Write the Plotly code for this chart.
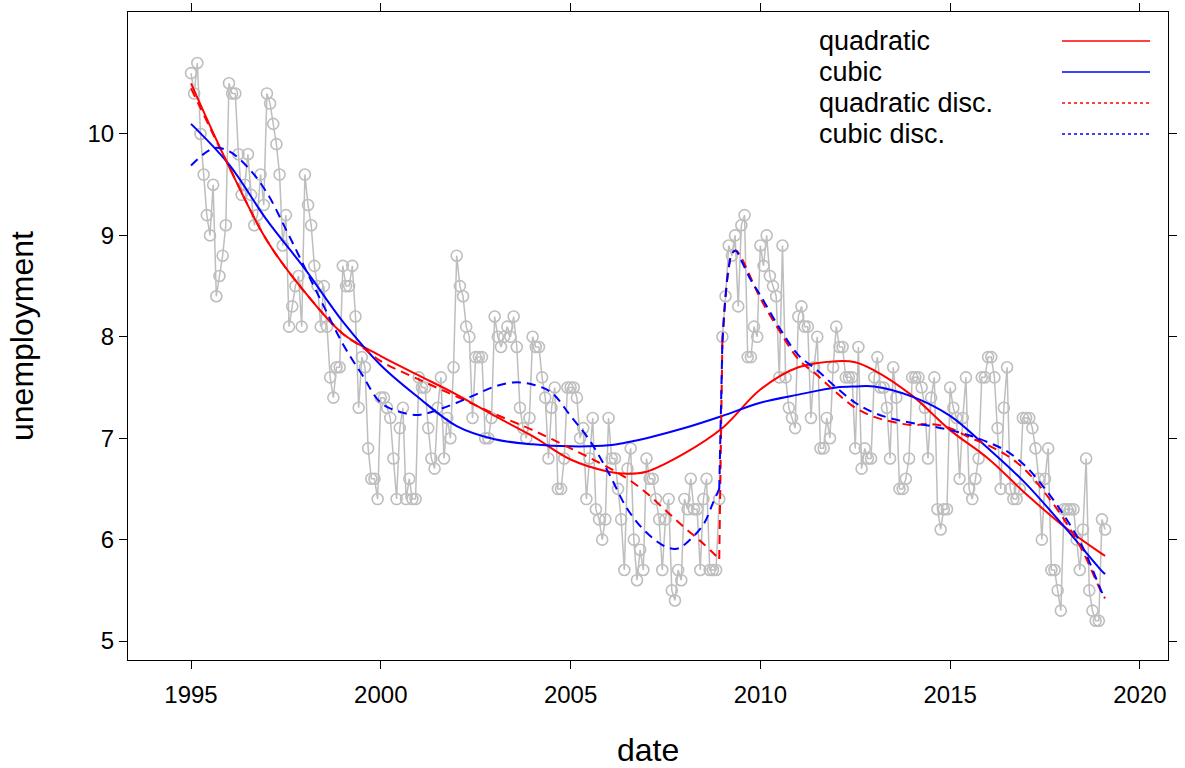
import plotly.graph_objects as go

# ---------------- data (monthly, Jan 1995 - Feb 2019) ----------------
start_year = 1995
unemployment = [
    10.6, 10.4, 10.7, 10.0, 9.6, 9.2, 9.0, 9.5, 8.4, 8.6, 8.8, 9.1,      # 1995
    10.5, 10.4, 10.4, 9.8, 9.4, 9.5, 9.8, 9.4, 9.1, 9.2, 9.6, 9.3,       # 1996
    10.4, 10.3, 10.1, 9.9, 9.6, 8.9, 9.2, 8.1, 8.3, 8.5, 8.6, 8.1,       # 1997
    9.6, 9.3, 9.1, 8.7, 8.5, 8.1, 8.5, 8.1, 7.6, 7.4, 7.7, 7.7,          # 1998
    8.7, 8.5, 8.5, 8.7, 8.2, 7.3, 7.8, 7.7, 6.9, 6.6, 6.6, 6.4,          # 1999
    7.4, 7.4, 7.3, 7.2, 6.8, 6.4, 7.1, 7.3, 6.4, 6.6, 6.4, 6.4,          # 2000
    7.6, 7.5, 7.5, 7.1, 6.8, 6.7, 7.3, 7.6, 6.8, 7.2, 7.0, 7.7,          # 2001
    8.8, 8.5, 8.4, 8.1, 8.0, 7.2, 7.8, 7.8, 7.8, 7.0, 7.0, 7.2,          # 2002
    8.2, 8.0, 7.9, 8.0, 8.1, 8.0, 8.2, 7.9, 7.3, 7.1, 7.0, 7.2,          # 2003
    8.0, 7.9, 7.9, 7.6, 7.4, 6.8, 7.3, 7.5, 6.5, 6.5, 6.8, 7.5,          # 2004
    7.5, 7.5, 7.4, 7.0, 7.1, 6.4, 6.8, 7.2, 6.3, 6.2, 6.0, 6.2,          # 2005
    7.2, 6.8, 6.8, 6.5, 6.2, 5.7, 6.7, 6.9, 6.0, 5.6, 5.9, 5.7,          # 2006
    6.8, 6.6, 6.6, 6.4, 6.2, 5.7, 6.2, 6.4, 5.5, 5.4, 5.7, 5.6,          # 2007
    6.4, 6.3, 6.6, 6.3, 6.3, 5.7, 6.4, 6.6, 5.7, 5.7, 5.7, 6.4,          # 2008
    8.0, 8.4, 8.9, 8.8, 9.0, 8.3, 9.1, 9.2, 7.8, 7.8, 8.1, 8.0,          # 2009
    8.9, 8.7, 9.0, 8.6, 8.5, 8.4, 7.6, 8.9, 7.6, 7.3, 7.2, 7.1,          # 2010
    8.2, 8.3, 8.1, 8.1, 7.2, 7.7, 8.0, 6.9, 6.9, 7.2, 7.0, 7.7,          # 2011
    8.1, 7.9, 7.9, 7.6, 7.6, 7.6, 6.9, 7.9, 6.7, 6.9, 6.8, 6.8,          # 2012
    7.6, 7.8, 7.5, 7.5, 7.3, 6.8, 7.7, 7.4, 6.5, 6.5, 6.6, 6.8,          # 2013
    7.6, 7.6, 7.6, 7.5, 7.3, 6.8, 7.4, 7.6, 6.3, 6.1, 6.3, 6.3,          # 2014
    7.5, 7.3, 7.2, 6.6, 7.2, 7.6, 6.5, 6.4, 6.6, 6.8, 7.6, 7.6,          # 2015
    7.8, 7.8, 7.6, 7.1, 6.5, 7.3, 7.7, 6.5, 6.4, 6.4, 6.5, 7.2,          # 2016
    7.2, 7.2, 7.1, 6.9, 6.6, 6.0, 6.6, 6.9, 5.7, 5.7, 5.5, 5.3,          # 2017
    6.3, 6.3, 6.3, 6.3, 6.0, 5.7, 6.1, 6.8, 5.5, 5.3, 5.2, 5.2,          # 2018
    6.2, 6.1,                                                            # 2019
]
dates = [start_year + i / 12 for i in range(len(unemployment))]

# fitted curves
fit_x = [1995.0, 1996.0, 1997.0, 1998.0, 1999.0, 2000.0, 2001.0, 2002.0, 2003.0,
         2004.0, 2005.0, 2006.0, 2006.5, 2007.0, 2008.0, 2009.0, 2010.0, 2011.0,
         2012.0, 2012.5, 2013.0, 2014.0, 2015.0, 2016.0, 2017.0, 2018.0, 2019.0, 2019.083]
quadratic = [10.5, 9.68, 8.95, 8.44, 8.03, 7.81, 7.62, 7.43, 7.22,
             7.02, 6.79, 6.67, 6.65, 6.67, 6.85, 7.10, 7.48, 7.70,
             7.76, 7.75, 7.67, 7.42, 7.08, 6.80, 6.45, 6.13, 5.86, 5.84]
cubic = [10.1, 9.70, 9.15, 8.67, 8.15, 7.72, 7.40, 7.12, 6.99,
         6.94, 6.92, 6.93, 6.96, 7.00, 7.10, 7.22, 7.35, 7.43,
         7.50, 7.51, 7.51, 7.41, 7.22, 6.90, 6.55, 6.13, 5.69, 5.66]

# discontinuous fits: segment before and after the 2009 break
quad_disc1_x = [1995.0, 1996.0, 1997.0, 1998.0, 1999.0, 1999.5, 2000.0, 2001.0, 2002.0,
                2003.0, 2004.0, 2005.0, 2006.0, 2006.5, 2007.0, 2007.5, 2008.0, 2008.5, 2008.917]
quad_disc1 = [10.45, 9.68, 8.95, 8.44, 8.03, 7.90, 7.76, 7.58, 7.41,
              7.24, 7.08, 6.90, 6.71, 6.60, 6.46, 6.29, 6.12, 5.96, 5.81]
cubic_disc1_x = [1995.0, 1995.6, 1996.0, 1996.5, 1997.0, 1997.5, 1998.0, 1998.5, 1999.0,
                 1999.5, 2000.0, 2000.5, 2001.0, 2001.5, 2002.0, 2002.5, 2003.0, 2003.5,
                 2004.0, 2004.5, 2005.0, 2005.5, 2006.0, 2006.5, 2007.0, 2007.5, 2007.8,
                 2008.0, 2008.5, 2008.75, 2008.917]
cubic_disc1 = [9.69, 9.86, 9.83, 9.67, 9.42, 9.06, 8.68, 8.30, 7.93,
               7.63, 7.35, 7.26, 7.23, 7.28, 7.35, 7.43, 7.51, 7.55,
               7.53, 7.45, 7.22, 6.98, 6.66, 6.30, 6.07, 5.93, 5.91,
               5.95, 6.15, 6.36, 6.50]
disc2_x = [2009.0, 2009.083, 2009.167, 2009.25, 2009.35, 2009.5, 2009.75, 2010.0, 2010.5,
           2011.0, 2011.5, 2012.0, 2012.5, 2013.0, 2013.5, 2014.0, 2014.5, 2015.0,
           2015.5, 2016.0, 2016.5, 2017.0, 2017.5, 2018.0, 2018.5, 2019.0, 2019.083]
quad_disc2 = [7.95, 8.40, 8.68, 8.82, 8.85, 8.78, 8.58, 8.38, 8.06,
              7.78, 7.62, 7.45, 7.30, 7.21, 7.16, 7.13, 7.14, 7.10,
              7.01, 6.93, 6.83, 6.68, 6.46, 6.20, 5.88, 5.47, 5.42]
cubic_disc2 = [7.95, 8.40, 8.68, 8.82, 8.85, 8.75, 8.56, 8.41, 8.09,
               7.82, 7.67, 7.50, 7.35, 7.25, 7.19, 7.15, 7.12, 7.08,
               7.03, 6.96, 6.87, 6.72, 6.50, 6.24, 5.92, 5.48, 5.42]

series_names = ["quadratic", "cubic", "quadratic disc.", "cubic disc."]
series_colors = ["#FF0000", "#0000FF", "#FF0000", "#0000FF"]

x_ticks = [1995, 2000, 2005, 2010, 2015, 2020]
y_ticks = [5, 6, 7, 8, 9, 10]

# ---------------- figure ----------------
FONT = "Liberation Sans, Arial, Helvetica, sans-serif"
DASH = "9px,6px"
BIG = 32
LEG = 27
TICK = 24
fig = go.Figure()

fig.add_trace(go.Scatter(
    x=dates, y=unemployment, mode="lines+markers",
    line=dict(color="#BEBEBE", width=1.5),
    marker=dict(symbol="circle-open", size=11, color="#BEBEBE", line=dict(width=1.6)),
    showlegend=False, hoverinfo="skip"))

fig.add_trace(go.Scatter(x=fit_x, y=quadratic, mode="lines", line_shape="spline",
                         line=dict(color=series_colors[0], width=2), showlegend=False))
fig.add_trace(go.Scatter(x=fit_x, y=cubic, mode="lines", line_shape="spline",
                         line=dict(color=series_colors[1], width=2), showlegend=False))

for x1, y1, y2, col in [(quad_disc1_x, quad_disc1, quad_disc2, series_colors[2]),
                        (cubic_disc1_x, cubic_disc1, cubic_disc2, series_colors[3])]:
    fig.add_trace(go.Scatter(x=x1, y=y1, mode="lines", line_shape="spline",
                             line=dict(color=col, width=2, dash=DASH), showlegend=False))
    fig.add_trace(go.Scatter(x=[x1[-1], disc2_x[0]], y=[y1[-1], y2[0]], mode="lines",
                             line=dict(color=col, width=2, dash=DASH), showlegend=False))
    fig.add_trace(go.Scatter(x=disc2_x, y=y2, mode="lines", line_shape="spline",
                             line=dict(color=col, width=2, dash=DASH), showlegend=False))

# custom legend (text left, line sample right)
L, R, T, B = 128, 1168, 12, 660
def px_x(p):
    return (p - L) / (R - L)
def px_y(p):
    return (B - p) / (B - T)

legend_rows = [41, 72, 103, 134]
for name, col, row, dash in zip(series_names, series_colors, legend_rows,
                                ["solid", "solid", "dot", "dot"]):
    fig.add_annotation(x=px_x(818), y=px_y(row), xref="paper", yref="paper",
                       text=name, showarrow=False, xanchor="left", yanchor="middle",
                       borderpad=0,
                       font=dict(size=LEG, color="black", family=FONT))
    fig.add_shape(type="line", xref="paper", yref="paper",
                  x0=px_x(1062), x1=px_x(1150), y0=px_y(row), y1=px_y(row),
                  line=dict(color=col, width=1.5, dash=dash))

fig.add_annotation(x=0.5, y=px_y(750), xref="paper", yref="paper", text="date",
                   showarrow=False, xanchor="center", yanchor="middle",
                   font=dict(size=BIG, color="black", family=FONT))
fig.add_annotation(x=px_x(22), y=0.5, xref="paper", yref="paper", text="unemployment",
                   showarrow=False, xanchor="center", yanchor="middle", textangle=-90,
                   font=dict(size=BIG, color="black", family=FONT))

axis_common = dict(showline=True, linecolor="black", linewidth=1, mirror="allticks",
                   ticks="outside", ticklen=8, tickwidth=1, tickcolor="black",
                   showgrid=False, zeroline=False, automargin=False,
                   tickfont=dict(size=TICK, color="black", family=FONT))
fig.update_xaxes(range=[1993.34, 2020.74], tickvals=x_ticks, ticklabelstandoff=5,
                 ticktext=[str(v) for v in x_ticks], **axis_common)
fig.update_yaxes(range=[4.813, 11.203], tickvals=y_ticks,
                 ticktext=[str(v) for v in y_ticks], **axis_common)

fig.update_layout(width=1185, height=768, plot_bgcolor="white", paper_bgcolor="white",
                  margin=dict(l=L, r=1185 - R, t=T, b=768 - B),
                  font=dict(family=FONT, color="black"), showlegend=False)

fig.write_html("out.html")
